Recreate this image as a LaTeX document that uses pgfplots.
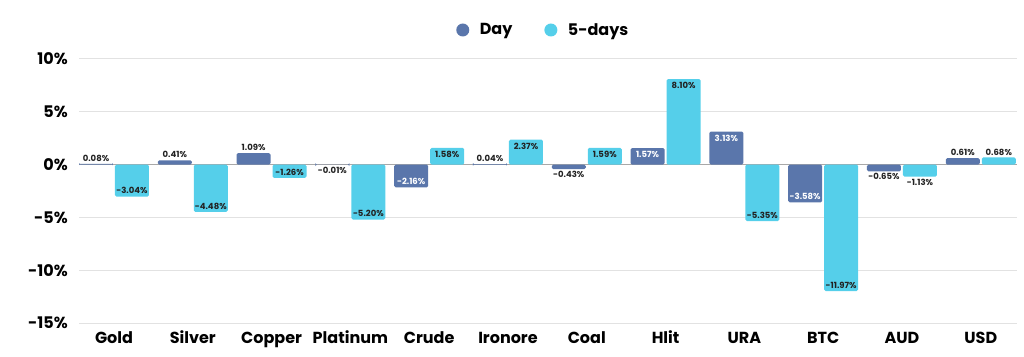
\documentclass[border=0pt]{standalone}
\usepackage{pgfplots}
\pgfplotsset{compat=1.18}
\usepackage{fontspec}
\setmainfont{Poppins}
\definecolor{daycol}{HTML}{5A76AB}
\definecolor{fivecol}{HTML}{55CFEA}
\definecolor{gridgray}{HTML}{E2E2E2}
\definecolor{zerogray}{HTML}{A8A8A8}
\definecolor{labdark}{HTML}{222222}
\newcommand{\labfont}{\fontsize{8.5}{9}\selectfont\bfseries}
\begin{document}
\begin{tikzpicture}
\useasboundingbox (0,0) rectangle (1024pt,356pt);
\begin{axis}[
  at={(79pt,33pt)}, anchor=south west,
  scale only axis, width=938pt, height=264pt,
  xmin=-0.444, xmax=11.46, ymin=-15, ymax=10,
  ytick={-15,-10,-5,0,5,10},
  yticklabel={\pgfmathprintnumber[assume math mode=true]{\tick}\%},
  yticklabel style={font=\fontsize{16}{18}\selectfont\bfseries, anchor=east, inner sep=0pt, xshift=-11pt},
  xtick={0,...,11},
  xticklabels={Gold,Silver,Copper,Platinum,Crude,Ironore,Coal,Hlit,URA,BTC,AUD,USD},
  xticklabel style={font=\fontsize{16}{18}\selectfont\bfseries, anchor=base, inner sep=0pt, yshift=-20pt},
  axis line style={draw=none}, major tick style={draw=none},
  ymajorgrids, grid style={color=gridgray, line width=1pt},
  extra y ticks={0}, extra y tick labels={},
  extra y tick style={grid style={color=zerogray, line width=1.2pt}},
  legend style={at={(0.495,1)}, anchor=center, yshift=29pt, draw=none, fill=none,
    font=\fontsize{16}{18}\selectfont\bfseries, legend columns=2,
    /tikz/every even column/.append style={column sep=30pt}},
  lab/.style={draw=none, mark=none, forget plot, point meta=y,
    nodes near coords={\pgfmathprintnumber[fixed,fixed zerofill,precision=2,assume math mode=true]{\pgfplotspointmeta}\%},
    nodes near coords style={font=\labfont, inner sep=1pt}},
  dayx/.style={nodes near coords style={xshift=-18pt}},
  fivex/.style={nodes near coords style={xshift=18pt}},
  above/.style={nodes near coords style={anchor=south, yshift=1pt, text=labdark}},
  below/.style={nodes near coords style={anchor=north, yshift=-1pt, text=labdark}},
  inpos/.style={nodes near coords style={anchor=north, yshift=-2pt, text=#1}},
  inneg/.style={nodes near coords style={anchor=south, yshift=1.5pt, text=#1}},
]
\addlegendimage{legend image code/.code={\fill[daycol, draw=none] (0pt,0pt) circle (6.5pt); \path[draw=none] (-6.5pt,0pt) -- (15pt,0pt);}}
\addlegendentry{Day}
\addlegendimage{legend image code/.code={\fill[fivecol, draw=none] (0pt,0pt) circle (6.5pt); \path[draw=none] (-6.5pt,0pt) -- (15pt,0pt);}}
\addlegendentry{5-days}

% Day bars
\addplot[ybar, bar width=34pt, bar shift=-18pt, fill=daycol, draw=none, rounded corners=1.5pt, forget plot]
  coordinates {(0,0.08) (1,0.41) (2,1.09) (3,-0.01) (4,-2.16) (5,0.04) (6,-0.43) (7,1.57) (8,3.13) (9,-3.58) (10,-0.65) (11,0.61)};
% 5-days bars
\addplot[ybar, bar width=34pt, bar shift=18pt, fill=fivecol, draw=none, rounded corners=1.5pt, forget plot]
  coordinates {(0,-3.04) (1,-4.48) (2,-1.26) (3,-5.20) (4,1.58) (5,2.37) (6,1.59) (7,8.10) (8,-5.35) (9,-11.97) (10,-1.13) (11,0.68)};

% Day labels
\addplot[lab, dayx, above] coordinates {(0,0.08) (1,0.41) (2,1.09) (5,0.04) (11,0.61)};
\addplot[lab, dayx, below] coordinates {(3,-0.01) (6,-0.43) (10,-0.65)};
\addplot[lab, dayx, inpos=white] coordinates {(7,1.57) (8,3.13)};
\addplot[lab, dayx, inneg=white] coordinates {(4,-2.16) (9,-3.58)};
% 5-days labels
\addplot[lab, fivex, inneg=labdark] coordinates {(0,-3.04) (1,-4.48) (2,-1.26) (3,-5.20) (8,-5.35) (9,-11.97)};
\addplot[lab, fivex, inpos=labdark] coordinates {(4,1.58) (5,2.37) (6,1.59) (7,8.10)};
\addplot[lab, fivex, below] coordinates {(10,-1.13)};
\addplot[lab, fivex, above] coordinates {(11,0.68)};
\end{axis}
\end{tikzpicture}
\end{document}
